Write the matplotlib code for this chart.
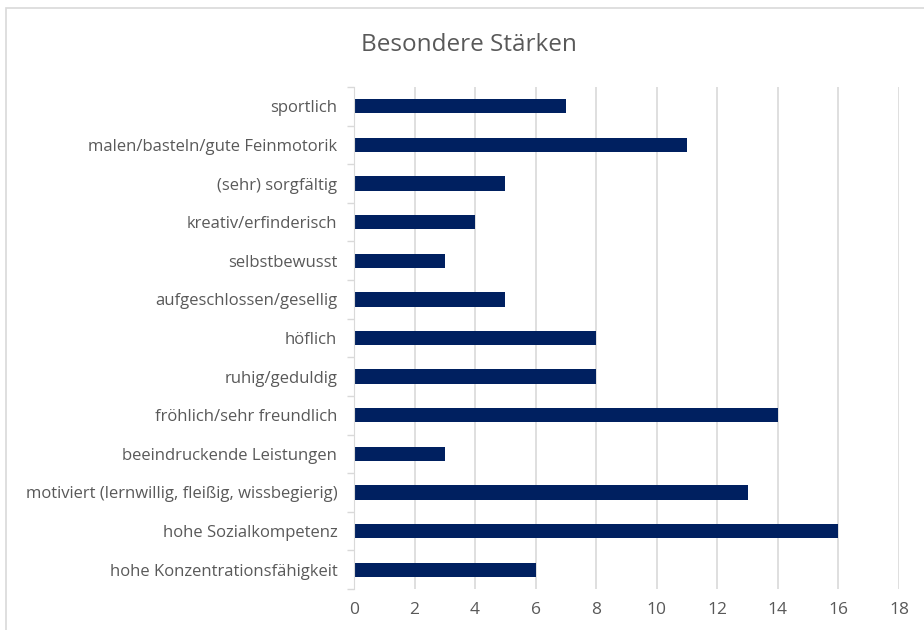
import matplotlib.pyplot as plt
from matplotlib.patches import Rectangle

# Besondere Stärken, top to bottom as listed in the chart
labels = ["sportlich", "malen/basteln/gute Feinmotorik", "(sehr) sorgfältig",
          "kreativ/erfinderisch", "selbstbewusst", "aufgeschlossen/gesellig",
          "höflich", "ruhig/geduldig", "fröhlich/sehr freundlich",
          "beeindruckende Leistungen",
          "motiviert (lernwillig, fleißig, wissbegierig)",
          "hohe Sozialkompetenz", "hohe Konzentrationsfähigkeit"]
values = [7, 11, 5, 4, 3, 5, 8, 8, 14, 3, 13, 16, 6]
xticks = [0, 2, 4, 6, 8, 10, 12, 14, 16, 18]

plt.rcParams['font.family'] = ['Open Sans', 'DejaVu Sans']
txt = "#595959"
grid = "#d9d9d9"

fig = plt.figure(figsize=(9.24, 6.3), dpi=100)
ax = fig.add_axes([354/924, 1 - 589/630, 545/924, (589 - 87)/630])

pos = list(range(len(labels)))[::-1]
ax.barh(pos, values, height=0.37, color="#002060", zorder=3)

ax.set_xlim(0, 18)
ax.set_ylim(-0.5, len(labels) - 0.5)
ax.set_xticks(xticks)
ax.set_xticklabels([str(t) for t in xticks], color=txt, fontsize=12.5)
ax.set_yticks(pos)
ax.set_yticklabels(labels, color=txt, fontsize=12)
ax.tick_params(axis='x', length=0, pad=9)
ax.tick_params(axis='y', length=0, pad=12)
# small category separators on the value axis
ax.set_yticks([p + 0.5 for p in range(-1, len(labels))], minor=True)
ax.tick_params(axis='y', which='minor', length=5, color=grid, width=1)

ax.xaxis.grid(True, color=grid, linewidth=1.2, zorder=0)
for s in ["top", "right", "bottom"]:
    ax.spines[s].set_visible(False)
ax.spines["left"].set_color(grid)
ax.spines["left"].set_zorder(4)

fig.text(469/924, 1 - 45/630, "Besondere Stärken", ha="center", va="center",
         fontsize=17.5, color=txt)

# chart area frame
fig.patches.append(Rectangle((6/924, -0.05), 1.1, 1 - 7.5/630 + 0.05,
                             transform=fig.transFigure, fill=False,
                             edgecolor="#d9d9d9", linewidth=1.2))

fig.savefig("out.png", dpi=100, facecolor="white")
